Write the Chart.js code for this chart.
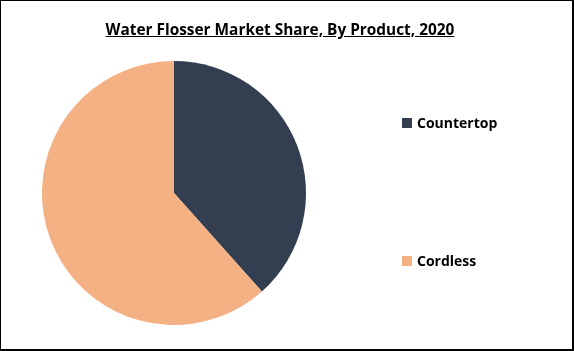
<!DOCTYPE html>
<html>
<head>
<meta charset="utf-8">
<script src="https://cdn.jsdelivr.net/npm/chart.js@4/dist/chart.umd.min.js"></script>
<style>
  html, body { margin: 0; padding: 0; background: #fff; }
  #wrap {
    position: relative;
    width: 574px; height: 351px;
    box-sizing: border-box;
    border: 1px solid #000;
    border-right-width: 2px;
    border-bottom-width: 2px;
    overflow: hidden;
  }
  #chart { position: absolute; left: -1px; top: -1px; }
  #title {
    position: absolute; left: 0; top: 18px; width: 558px;
    text-align: center;
    font-family: "Open Sans", sans-serif;
    font-weight: bold; font-size: 15.4px;
    text-decoration: underline;
    color: #000;
  }
  .legend-item {
    position: absolute; left: 401px;
    font-family: "Open Sans", sans-serif;
    font-weight: bold; font-size: 14px;
    color: #000;
    display: flex; align-items: center;
  }
  .legend-item span.box {
    display: inline-block; width: 10px; height: 10px; margin-right: 5px;
  }
</style>
</head>
<body>
<div id="wrap">
  <canvas id="chart" width="574" height="351"></canvas>
  <div id="title">Water Flosser Market Share, By Product, 2020</div>
</div>
<script>
// Chart data
const categories = ["Countertop", "Cordless"];
const shares = [38.4, 61.6];
const colors = ["#333F50", "#F4B183"];
const legendTops = [112, 250];

const ctx = document.getElementById("chart").getContext("2d");
new Chart(ctx, {
  type: "pie",
  data: {
    labels: categories,
    datasets: [{
      data: shares,
      backgroundColor: colors,
      borderWidth: 0
    }]
  },
  options: {
    responsive: false,
    animation: false,
    layout: { padding: { left: 42, top: 61, right: 268, bottom: 26 } },
    plugins: {
      legend: { display: false },
      tooltip: { enabled: false }
    }
  }
});

// Legend on the right, items spread apart like the original
const wrap = document.getElementById("wrap");
categories.forEach((name, i) => {
  const item = document.createElement("div");
  item.className = "legend-item";
  item.style.top = legendTops[i] + "px";
  item.innerHTML = `<span class="box" style="background:${colors[i]}"></span>${name}`;
  wrap.appendChild(item);
});
</script>
</body>
</html>
